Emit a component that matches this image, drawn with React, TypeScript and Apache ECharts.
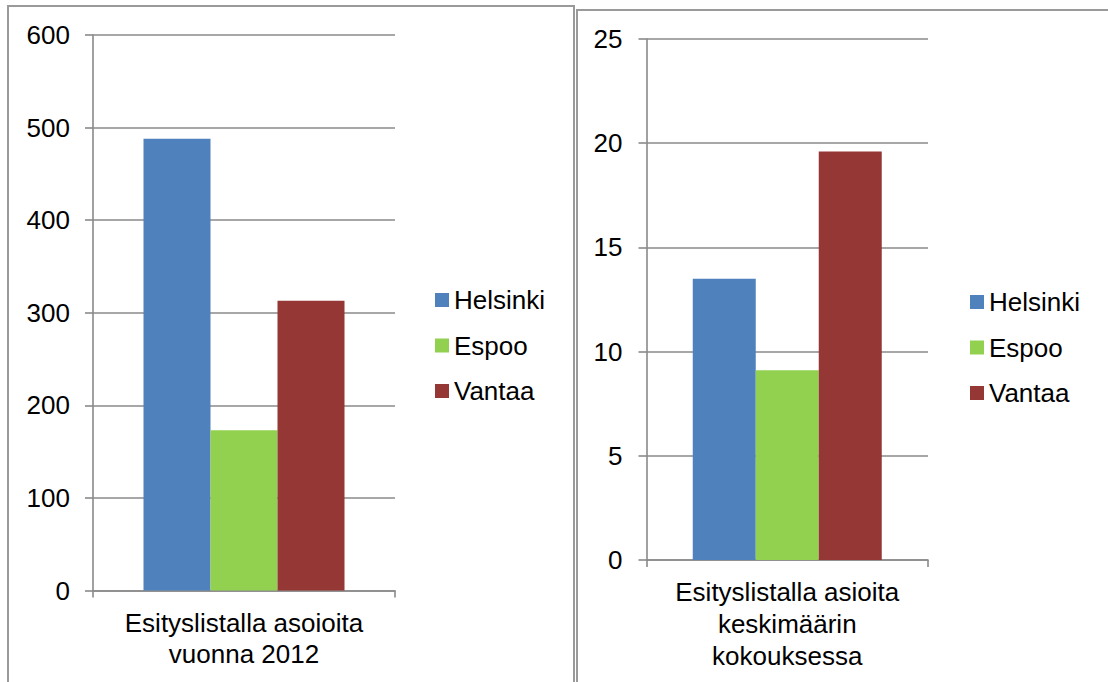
import React, { useEffect, useRef } from "react";
import * as echarts from "echarts";

const cities = ["Helsinki", "Espoo", "Vantaa"];
const colors = ["#4F81BD", "#92D050", "#953735"];
const leftCategory = ["Esityslistalla asoioita\nvuonna 2012"];
const rightCategory = ["Esityslistalla asioita\nkeskimäärin\nkokouksessa"];
const leftValues = [488, 173, 313];
const rightValues = [13.5, 9.1, 19.6];

const FONT = "'Liberation Sans', Arial, sans-serif";
const GRAY = "#8a8a8a";

export default function App() {
  const ref = useRef<HTMLDivElement>(null);
  useEffect(() => {
    if (!ref.current) return;
    const chart = echarts.init(ref.current, undefined, { renderer: "svg" });
    const axisLine = { show: true, lineStyle: { color: GRAY, width: 1.6 } };
    const splitLine = { show: true, lineStyle: { color: GRAY, width: 1.6 } };
    const labelStyle = { color: "#000", fontSize: 26, fontFamily: FONT };
    const series: any[] = [];
    cities.forEach((c, i) => {
      series.push({
        type: "bar",
        name: c,
        xAxisIndex: 0,
        yAxisIndex: 0,
        data: [leftValues[i]],
        barWidth: 67,
        barGap: "0%",
        itemStyle: { color: colors[i] },
      });
    });
    cities.forEach((c, i) => {
      series.push({
        type: "bar",
        name: c,
        xAxisIndex: 1,
        yAxisIndex: 1,
        data: [rightValues[i]],
        barWidth: 63,
        barGap: "0%",
        itemStyle: { color: colors[i] },
      });
    });
    const legendBase = {
      orient: "vertical",
      icon: "rect",
      padding: 0,
      itemWidth: 14,
      itemHeight: 14,
      itemGap: 19.5,
      data: cities,
      textStyle: { color: "#000", fontSize: 26, fontFamily: FONT, lineHeight: 26 },
    };
    chart.setOption({
      animation: false,
      backgroundColor: "#fff",
      grid: [
        { left: 93, top: 35, width: 302, height: 555.5, containLabel: false },
        { left: 646.5, top: 39, width: 281.5, height: 521, containLabel: false },
      ],
      legend: [
        { ...legendBase, left: 435, top: 287 },
        { ...legendBase, left: 970, top: 289 },
      ],
      xAxis: [
        {
          type: "category",
          gridIndex: 0,
          data: leftCategory,
          axisLine,
          axisTick: { show: true, length: 7, lineStyle: { color: GRAY, width: 1.6 } },
          axisLabel: { ...labelStyle, margin: 17, lineHeight: 31 },
        },
        {
          type: "category",
          gridIndex: 1,
          data: rightCategory,
          axisLine,
          axisTick: { show: true, length: 7, lineStyle: { color: GRAY, width: 1.6 } },
          axisLabel: { ...labelStyle, margin: 16, lineHeight: 32 },
        },
      ],
      yAxis: [
        {
          type: "value",
          gridIndex: 0,
          min: 0,
          max: 600,
          interval: 100,
          axisLine,
          axisTick: { show: true, length: 8, lineStyle: { color: GRAY, width: 1.6 } },
          splitLine,
          axisLabel: { ...labelStyle, margin: 23 },
        },
        {
          type: "value",
          gridIndex: 1,
          min: 0,
          max: 25,
          interval: 5,
          axisLine,
          axisTick: { show: true, length: 8, lineStyle: { color: GRAY, width: 1.6 } },
          splitLine,
          axisLabel: { ...labelStyle, margin: 24 },
        },
      ],
      graphic: [
        {
          type: "rect",
          shape: { x: 8, y: 6, width: 566, height: 720 },
          style: { fill: "none", stroke: "#9a9a9a", lineWidth: 2 },
          silent: true,
        },
        {
          type: "rect",
          shape: { x: 577, y: 10, width: 620, height: 720 },
          style: { fill: "none", stroke: "#9a9a9a", lineWidth: 2 },
          silent: true,
        },
      ],
      series,
    });
    return () => chart.dispose();
  }, []);
  return (
    <div
      ref={ref}
      style={{ position: "absolute", left: 0, top: 0, width: 1108, height: 682 }}
    />
  );
}
